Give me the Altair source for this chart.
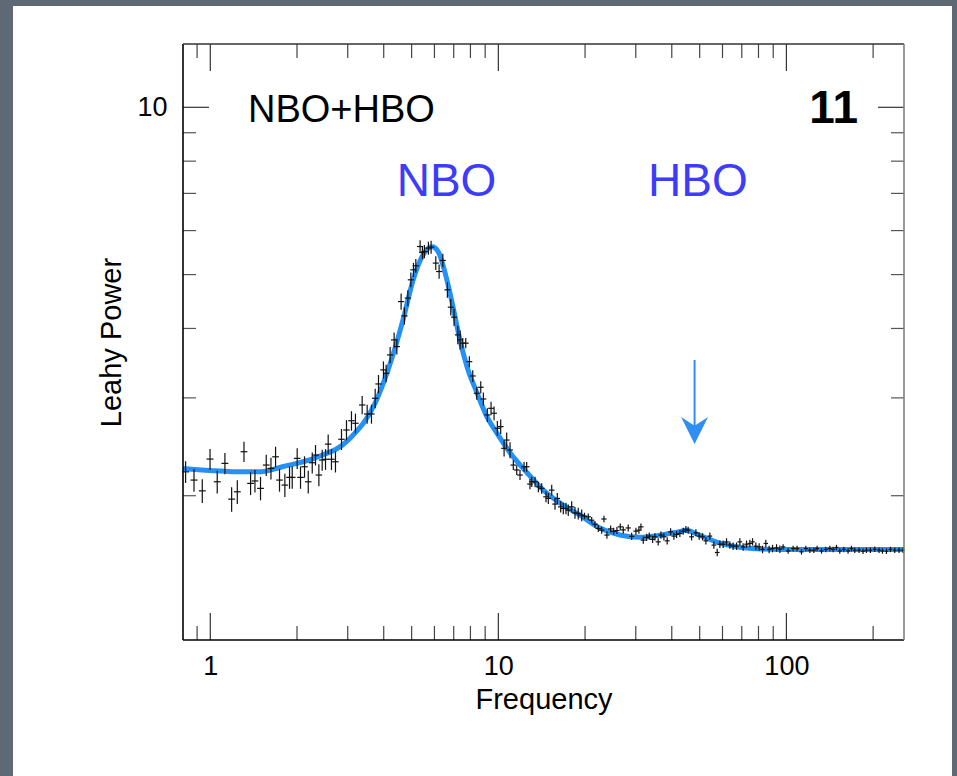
import altair as alt
import pandas as pd

FONT = "Liberation Sans"

# ---------------- data ----------------
freq = [
    0.821, 0.878, 0.938, 0.998, 1.057, 1.124, 1.186, 1.241, 1.309, 1.380,
    1.429, 1.494, 1.564, 1.624, 1.685, 1.739, 1.815, 1.884, 1.925, 2.003,
    2.057, 2.124, 2.188, 2.259, 2.319, 2.382, 2.446, 2.512, 2.566, 2.634,
    2.720, 2.854, 2.970, 3.091, 3.191, 3.367, 3.504, 3.627,
    3.736, 3.836, 3.991, 4.078, 4.210, 4.347, 4.442, 4.597, 4.721, 4.851,
    4.969, 5.073, 5.170, 5.350, 5.450, 5.537, 5.717, 5.842, 6.065, 6.228,
    6.414, 6.654, 6.837, 7.020, 7.231, 7.365,
    7.525, 7.707, 7.932, 8.150, 8.415, 8.688, 8.872, 9.160, 9.434, 9.663,
    9.920, 10.19, 10.47, 10.69, 10.98, 11.27, 11.58, 11.89, 12.28, 12.54,
    12.88, 13.06, 13.41, 13.77, 14.14, 14.64, 14.91, 15.32, 15.73, 16.02,
    16.46, 16.81, 17.17, 17.49, 17.97, 18.45, 18.94, 19.47,
    19.91, 20.52, 21.09, 21.65, 22.23, 22.84, 23.26, 23.82, 24.54, 25.14,
    25.80, 26.50, 27.14, 28.24, 29.02, 30.03, 30.76, 31.26, 31.84, 32.72,
    33.41, 34.33, 34.96, 35.89, 36.67, 37.56, 38.56, 39.63, 40.68, 41.57,
    42.68, 43.82, 44.78, 45.60, 46.86, 48.50, 49.80, 51.17, 52.53, 54.24,
    56.00, 57.51, 58.75, 60.32, 61.97, 63.63, 65.33, 67.13, 68.93, 70.76,
    72.71, 74.66, 76.29, 78.32, 80.42, 82.64, 84.84, 87.11, 89.51, 92.42,
    94.90,
    97.40, 101.4, 105.5, 108.9, 112.8, 116.8, 120.6, 124.5, 127.8, 132.4,
    137.0, 141.5, 145.2, 149.2, 153.2, 158.2, 163.7, 168.2, 172.7, 178.7,
    184.5, 189.6, 195.7, 202.6, 209.7, 215.5, 222.5, 229.7, 237.7, 246.0, 254.0,
]

power = [
    2.208, 2.134, 2.041, 2.328, 2.119, 2.287, 1.972, 2.033, 2.400, 2.105,
    2.126, 2.062, 2.271, 2.240, 2.350, 2.134, 2.090, 2.158, 2.158, 2.335,
    2.158, 2.255, 2.119, 2.293, 2.367, 2.179, 2.319, 2.326, 2.477, 2.326,
    2.302, 2.527, 2.626, 2.729, 2.700, 2.913, 2.806, 2.806,
    2.995, 3.178, 3.369, 3.322, 3.584, 3.815, 3.710, 4.471, 4.214, 4.536,
    4.893, 5.100, 5.186, 5.617, 5.479, 5.502, 5.580, 5.603, 5.244, 5.064,
    5.302, 4.694, 4.369, 4.191, 3.895, 3.815,
    3.763, 3.763, 3.486, 3.285, 3.058, 3.135, 2.986, 2.795, 2.873, 2.815,
    2.645, 2.663, 2.434, 2.519, 2.417, 2.271, 2.225, 2.179, 2.255, 2.255,
    2.099, 2.119, 2.119, 2.075, 2.062, 1.991, 1.978, 2.047, 1.932, 1.978,
    1.910, 1.897, 1.897, 1.884, 1.910, 1.863, 1.858, 1.845,
    1.839, 1.833, 1.807, 1.777, 1.746, 1.734, 1.816, 1.699, 1.743, 1.726,
    1.731, 1.758, 1.736, 1.750, 1.690, 1.727, 1.734, 1.758, 1.664, 1.683,
    1.692, 1.669, 1.687, 1.652, 1.699, 1.687, 1.659, 1.722, 1.692, 1.703,
    1.710, 1.727, 1.739, 1.734, 1.687, 1.715, 1.692, 1.687, 1.659, 1.692,
    1.630, 1.581, 1.636, 1.636, 1.652, 1.630, 1.623, 1.623, 1.652, 1.618,
    1.636, 1.641, 1.652, 1.623, 1.618, 1.601, 1.641, 1.601, 1.607, 1.611,
    1.603,
    1.618, 1.591, 1.607, 1.607, 1.585, 1.607, 1.596, 1.596, 1.607, 1.591,
    1.601, 1.607, 1.601, 1.614, 1.591, 1.601, 1.591, 1.607, 1.596, 1.596,
    1.589, 1.596, 1.596, 1.602, 1.596, 1.591, 1.589, 1.601, 1.596, 1.596, 1.596,
]

power_err = [
    0.10, 0.10, 0.10, 0.10, 0.10, 0.10, 0.10, 0.10, 0.10, 0.10,
    0.10, 0.10, 0.10, 0.10, 0.10, 0.10, 0.10, 0.10, 0.10, 0.10,
    0.10, 0.10, 0.10, 0.10, 0.10, 0.10, 0.10, 0.10, 0.10, 0.10,
    0.10, 0.11, 0.11, 0.11, 0.11, 0.11, 0.11, 0.11,
    0.12, 0.12, 0.12, 0.12, 0.12, 0.12, 0.12, 0.15, 0.15, 0.15,
    0.15, 0.15, 0.15, 0.15, 0.15, 0.15, 0.15, 0.15, 0.15, 0.15,
    0.15, 0.15, 0.15, 0.15, 0.15, 0.15,
    0.08, 0.08, 0.08, 0.08, 0.08, 0.08, 0.08, 0.08, 0.08, 0.08,
    0.08, 0.08, 0.08, 0.08, 0.08, 0.045, 0.045, 0.045, 0.045, 0.045,
    0.045, 0.045, 0.045, 0.045, 0.045, 0.045, 0.045, 0.045, 0.045, 0.045,
    0.045, 0.045, 0.045, 0.045, 0.045, 0.045, 0.045, 0.045,
    0.025, 0.025, 0.025, 0.025, 0.025, 0.025, 0.025, 0.025, 0.025, 0.025,
    0.025, 0.025, 0.025, 0.025, 0.025, 0.025, 0.025, 0.025, 0.025, 0.025,
    0.025, 0.025, 0.025, 0.025, 0.025, 0.025, 0.025, 0.025, 0.025, 0.025,
    0.025, 0.025, 0.025, 0.025, 0.025, 0.025, 0.025, 0.025, 0.025, 0.025,
    0.025, 0.025, 0.025, 0.025, 0.025, 0.025, 0.025, 0.025, 0.025, 0.025,
    0.025, 0.025, 0.025, 0.025, 0.025, 0.025, 0.025, 0.025, 0.025, 0.025,
    0.025,
    0.018, 0.018, 0.018, 0.018, 0.018, 0.018, 0.018, 0.018, 0.018, 0.018,
    0.018, 0.018, 0.018, 0.018, 0.018, 0.018, 0.018, 0.018, 0.018, 0.018,
    0.018, 0.018, 0.018, 0.018, 0.018, 0.018, 0.018, 0.018, 0.018, 0.018, 0.018,
]

model_freq = [0.80, 1.0, 1.19, 1.5, 1.78, 2.31, 3.04, 3.74, 4.11, 4.67,
              5.06, 5.48, 5.89, 6.18, 6.53, 6.91, 7.36, 7.79, 8.44, 9.14,
              9.90, 10.98, 12.58, 14.29, 16.37, 19.2, 22.5, 26.4, 31.0, 36.4,
              41.7, 45.1, 48.1, 53.0, 58.8, 68.9, 82.8, 94.9, 150.0, 256.0]
model_power = [2.24, 2.22, 2.21, 2.21, 2.255, 2.34, 2.53, 2.94, 3.33, 4.15,
               4.89, 5.43, 5.61, 5.50, 5.04, 4.45, 3.81, 3.41, 3.06, 2.77,
               2.59, 2.39, 2.20, 2.05, 1.94, 1.845, 1.75, 1.70, 1.684, 1.698,
               1.72, 1.734, 1.712, 1.677, 1.643, 1.616, 1.603, 1.60, 1.60, 1.60]

x_major_ticks = [1, 10, 100]
x_minor_ticks = [0.9, 2, 3, 4, 5, 6, 7, 8, 9, 20, 30, 40, 50, 60, 70, 80, 90, 200]
y_major_ticks = [10]
y_minor_ticks = [2, 3, 4, 5, 6, 7, 8, 9]

x_domain = [0.804, 256]
y_domain = [1.10, 13.0]

peak_labels = ["NBO", "HBO"]
peak_label_freq = [6.61, 49.3]
peak_label_power = [6.92, 6.92]

arrow_freq = [48.0]
arrow_top = [3.51]
arrow_end = [2.66]
arrow_head = [2.62]

# ---------------- chart ----------------
W, H = 721, 596
BLUE_LINE = "#2590f5"
LABEL_BLUE = "#3c3cfa"
BORDER = "#5f6975"

xs = alt.Scale(type="log", domain=x_domain, nice=False)
ys = alt.Scale(type="log", domain=y_domain, nice=False)

AX = alt.Axis(
    values=x_major_ticks, format="d", ticks=False, domain=False, grid=False,
    labelFont=FONT, labelFontSize=27, labelColor="black", labelPadding=13,
    labelFlush=False, title="Frequency", titleFont=FONT, titleFontSize=29,
    titleFontWeight="normal", titleColor="black", titlePadding=6)
AY = alt.Axis(
    values=y_major_ticks, format="d", ticks=False, domain=False, grid=False,
    labelFont=FONT, labelFontSize=27, labelColor="black", labelPadding=16,
    labelFlush=False, title="Leahy Power", titleFont=FONT, titleFontSize=29,
    titleFontWeight="normal", titleColor="black", titlePadding=10)


def X(field):
    return alt.X(field, scale=xs, axis=AX)


def Y(field):
    return alt.Y(field, scale=ys, axis=AY)


pts = pd.DataFrame({"f": freq, "p": power, "e": power_err})
model = pd.DataFrame({"f": model_freq, "p": model_power})
one = pd.DataFrame({"a": [0]})


def strip(x1, x2, y1, y2):
    return alt.Chart(one).mark_rect(color=BORDER).encode(
        x=alt.value(x1), x2=alt.value(x2), y=alt.value(y1), y2=alt.value(y2))


strips = [
    strip(-183, -170, -44, 732),   # left border
    strip(-183, 774, -44, -38),    # top border
    strip(769, 774, -44, 732),     # right border
]

model_line = alt.Chart(model).mark_line(
    color=BLUE_LINE, strokeWidth=5, interpolate="monotone", clip=True
).encode(x=X("f:Q"), y=Y("p:Q"))

err = alt.Chart(pts).transform_calculate(
    lo="datum.p - datum.e", hi="datum.p + datum.e"
).mark_rule(color="#111111", strokeWidth=1.2).encode(
    x=X("f:Q"), y=Y("lo:Q"), y2="hi:Q",
)

hbar = alt.Chart(pts).mark_point(
    shape="M-1,0L1,0", filled=False, stroke="#111111", strokeWidth=1.2, opacity=1
).encode(
    x=X("f:Q"), y=Y("p:Q"),
    size=alt.Size("f:Q", scale=alt.Scale(type="log", domain=x_domain, range=[50, 12]), legend=None),
)


def xticks(vals, y1, y2, color):
    return alt.Chart(pd.DataFrame({"v": vals})).mark_rule(color=color, strokeWidth=1.2).encode(
        x=X("v:Q"), y=alt.value(y1), y2=alt.value(y2))


def yticks(vals, x1, x2, color):
    return alt.Chart(pd.DataFrame({"v": vals})).mark_rule(color=color, strokeWidth=1.2).encode(
        y=Y("v:Q"), x=alt.value(x1), x2=alt.value(x2))


tick_layers = [
    xticks(x_major_ticks, H, H - 27, "#333333"),
    xticks(x_minor_ticks, H, H - 14, "#444444"),
    xticks(x_major_ticks, 0, 27, "#333333"),
    xticks(x_minor_ticks, 0, 14, "#444444"),
    yticks(y_major_ticks, 0, 26, "#333333"),
    yticks(y_minor_ticks, 0, 13, "#555555"),
    yticks(y_major_ticks, W, W - 26, "#333333"),
    yticks(y_minor_ticks, W, W - 13, "#555555"),
]


def frame(color, **enc):
    return alt.Chart(one).mark_rule(color=color, strokeWidth=1.6).encode(**enc)


frames = [
    frame("#000000", x=alt.value(0), y=alt.value(0), y2=alt.value(H)),
    frame("#000000", x=alt.value(0), x2=alt.value(W), y=alt.value(H)),
    frame("#333333", x=alt.value(0), x2=alt.value(W), y=alt.value(0)),
    frame("#808080", x=alt.value(W), y=alt.value(0), y2=alt.value(H)),
]

panel_label = alt.Chart(one).mark_text(
    text="NBO+HBO", font=FONT, fontSize=38, align="left", baseline="alphabetic", color="black"
).encode(x=alt.value(65), y=alt.value(77.5))

panel_number = alt.Chart(one).mark_text(
    text="11", font=FONT, fontSize=46, fontWeight="bold", align="right",
    baseline="alphabetic", color="black"
).encode(x=alt.value(675), y=alt.value(79))

peak_df = pd.DataFrame({"label": peak_labels, "f": peak_label_freq, "p": peak_label_power})
peak_text = alt.Chart(peak_df).mark_text(
    font=FONT, fontSize=46, align="center", baseline="alphabetic", color=LABEL_BLUE
).encode(x=X("f:Q"), y=Y("p:Q"), text="label:N")

arrow_df = pd.DataFrame({"f": arrow_freq, "top": arrow_top, "end": arrow_end, "head": arrow_head})
arrow_line = alt.Chart(arrow_df).mark_rule(color="#2f8ff0", strokeWidth=2).encode(
    x=X("f:Q"), y=Y("top:Q"), y2="end:Q",
)
arrow_tip = alt.Chart(arrow_df).mark_point(
    shape="M-1,-1L0,-0.35L1,-1L0,1Z", filled=True, color="#2f8ff0", size=729, opacity=1
).encode(x=X("f:Q"), y=Y("head:Q"))

chart = alt.layer(
    *strips, model_line, err, hbar, *tick_layers, *frames,
    panel_label, panel_number, peak_text, arrow_line, arrow_tip,
).properties(
    width=W, height=H,
    autosize=alt.AutoSizeParams(type="none"),
    padding={"left": 183, "top": 44, "right": 53, "bottom": 136},
).configure(
    background="white",
).configure_view(
    stroke="transparent",
)

chart.save("out.html", embed_options={"renderer": "svg", "actions": False})
